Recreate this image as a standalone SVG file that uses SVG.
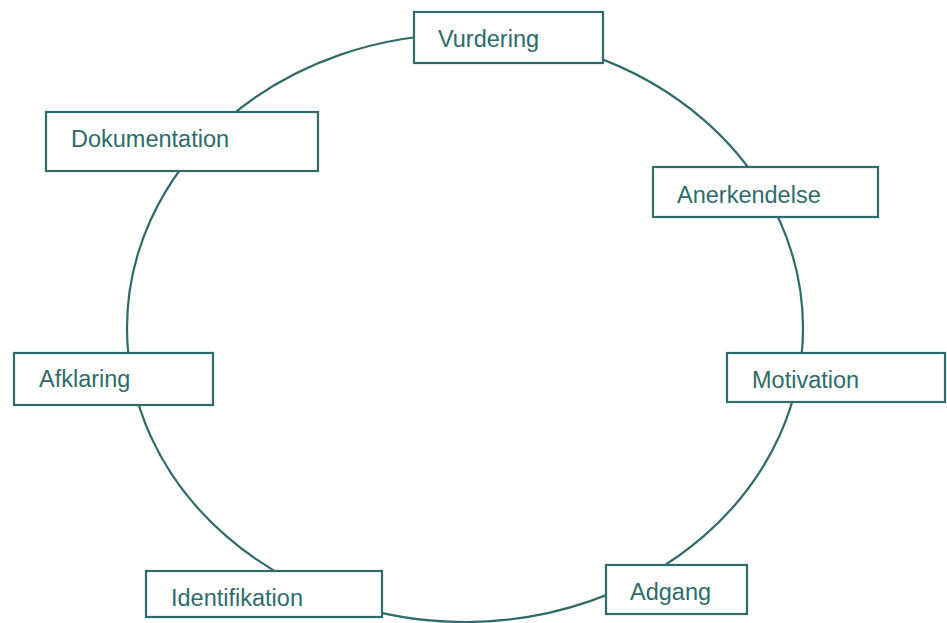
<svg xmlns="http://www.w3.org/2000/svg" width="947" height="623" viewBox="0 0 947 623">
<style>
.box{fill:#ffffff;stroke:#2e6b6a;stroke-width:2.2}
.lbl{font-family:"Liberation Sans",Arial,sans-serif;font-size:23.5px;fill:#2e6b6a}
.ring{fill:none;stroke:#2e6b6a;stroke-width:2.2}
</style>
<rect width="947" height="623" fill="#ffffff"/>
<g id="connectors">
<ellipse class="ring" cx="465" cy="328" rx="338" ry="294"/>
</g>
<g id="node-vurdering"><rect class="box" x="414" y="12" width="189" height="51"/><text class="lbl" x="438" y="47">Vurdering</text></g>
<g id="node-dokumentation"><rect class="box" x="46" y="112" width="272" height="59"/><text class="lbl" x="71" y="147">Dokumentation</text></g>
<g id="node-anerkendelse"><rect class="box" x="653" y="167" width="225" height="50"/><text class="lbl" x="677" y="203">Anerkendelse</text></g>
<g id="node-motivation"><rect class="box" x="727" y="353" width="218" height="49"/><text class="lbl" x="752" y="388">Motivation</text></g>
<g id="node-afklaring"><rect class="box" x="14" y="353" width="199" height="52"/><text class="lbl" x="39" y="387">Afklaring</text></g>
<g id="node-identifikation"><rect class="box" x="146" y="571" width="236" height="46"/><text class="lbl" x="171" y="606">Identifikation</text></g>
<g id="node-adgang"><rect class="box" x="606" y="565" width="141" height="49"/><text class="lbl" x="630" y="600">Adgang</text></g>
</svg>
